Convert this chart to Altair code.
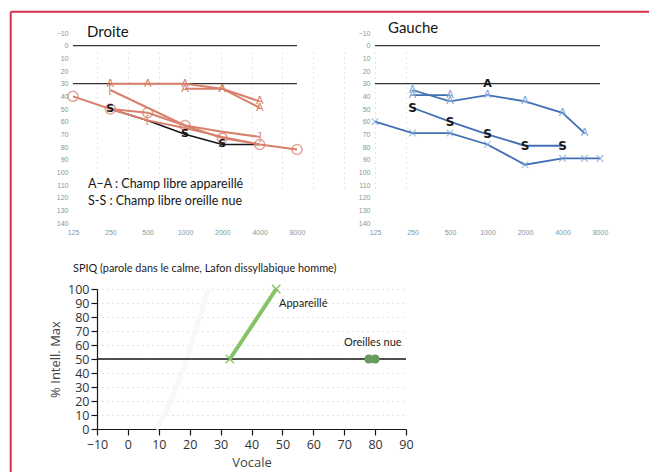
import altair as alt
import pandas as pd

# ---------------- colours ----------------
RED = "#d9806c"
BLUE = "#4170b4"
XBLUE = "#7fa6d6"
BLACK = "#161616"
BORDER = "#d8304f"
GREEN = "#84c468"
DGREEN = "#6a9a5e"
AXGREY = "#8496a0"

# ---------------- audiogram axes ----------------
FREQ_TICKS = [125, 250, 500, 1000, 2000, 4000, 8000]
DB_TICKS = [-10, 0, 10, 20, 30, 40, 50, 60, 70, 80, 90, 100, 110, 120, 130, 140]
REF_DB = [0, 30]

# ---------------- Droite (right ear) ----------------
R_A1_F = [250, 500, 1000, 2000, 4000]
R_A1_DB = [30, 30, 30, 34, 44]
R_A2_F = [1000, 2000, 4000]
R_A2_DB = [34, 34, 49]
R_O_F = [125, 250, 500, 1000, 2000, 4000, 8000]
R_O_DB = [40, 50, 53, 63, 73, 78, 82]
R_B1_F = [250, 500, 1000, 2000, 4000]
R_B1_DB = [35, 49, 63, 68, 72]
R_B1_M = ["[", "", "", "", "]"]
R_B2_F = [250, 500, 1000, 2000, 4000]
R_B2_DB = [50, 59, 65, 72, 78]
R_B2_M = ["", "[", "", "", ""]
R_S_F = [250, 500, 1000, 2000, 4000]
R_S_DB = [50, 59, 70, 78, 78]
R_S_M = ["S", "", "S", "S", ""]

# ---------------- Gauche (left ear) ----------------
L_A1_F = [250, 500, 1000, 2000, 4000, 6000]
L_A1_DB = [35, 44, 39, 44, 53, 69]
L_A2_F = [250, 500]
L_A2_DB = [39, 39]
L_S_F = [250, 500, 1000, 2000, 4000]
L_S_DB = [49, 60, 70, 79, 79]
L_X_F = [125, 250, 500, 1000, 2000, 4000, 6000, 8000]
L_X_DB = [60, 69, 69, 78, 94, 89, 89, 89]
L_AK_F = [1000]
L_AK_DB = [30]

# ---------------- SPIQ ----------------
VOC_TICKS = [-10, 0, 10, 20, 30, 40, 50, 60, 70, 80, 90]
INT_TICKS = [0, 10, 20, 30, 40, 50, 60, 70, 80, 90, 100]
AIDED_VOC = [33, 48]
AIDED_INT = [50, 100]
BARE_VOC = [78, 80]
BARE_INT = [50, 50]
HALF_INT = [50]
NORM_VOC = [9, 13, 16, 19, 22, 26]
NORM_INT = [0, 15, 32, 50, 72, 100]

X_PATH = "M-1,-1L1,1M-1,1L1,-1"
ONE = pd.DataFrame({"k": [0]})

# ---------------- canvas / panel geometry (pixels in the view) ----------------
W, H = 643, 465
A_X = (65, 289)      # Droite plot, horizontal extent
B_X = (367, 592)     # Gauche plot
AUD_Y = (25, 215)    # both audiograms, -10 dB at top, 140 dB at bottom
C_X = (89, 398)      # SPIQ plot
C_Y = (421, 281)     # 0 % at bottom, 100 % at top


def frame(freqs, dbs, series, markers=None):
    df = pd.DataFrame({"freq": freqs, "db": dbs})
    df["series"] = series
    df["marker"] = markers if markers is not None else [""] * len(freqs)
    return df


def text_layer(text, x, y, size, font="Lato", color=BLACK, align="left",
               baseline="alphabetic", weight="normal", line_height=None):
    df = pd.DataFrame({"label": [text]})
    kw = dict(align=align, baseline=baseline, fontSize=size, font=font,
              color=color, fontWeight=weight)
    if line_height:
        kw["lineBreak"] = "\n"
        kw["lineHeight"] = line_height
    return alt.Chart(df).mark_text(**kw).encode(
        x=alt.value(x), y=alt.value(y), text="label:N")


def aud_enc(xr, axis=False):
    xs = alt.Scale(type="log", base=2, domain=[125, 8000], range=list(xr), nice=False)
    ys = alt.Scale(domain=[-10, 140], range=list(AUD_Y), nice=False, zero=False)
    if axis:
        xa = alt.Axis(orient="bottom", offset=AUD_Y[1] - H, values=FREQ_TICKS,
                      format="d", title=None, grid=False, domain=False, ticks=False,
                      labelFontSize=7, labelColor=AXGREY, labelFont="Liberation Sans",
                      labelPadding=5, labelFlush=False, labelOverlap=False)
        ya = alt.Axis(orient="left", offset=-xr[0], values=DB_TICKS, title=None,
                      grid=False, domain=False, ticks=False, labelFontSize=7,
                      labelColor=AXGREY, labelFont="Liberation Sans", labelPadding=5,
                      labelOverlap=False)
    else:
        xa = None
        ya = None
    return (alt.X("freq:Q", scale=xs, axis=xa), alt.Y("db:Q", scale=ys, axis=ya), xs)


def ref_rules(xs):
    ys = alt.Scale(domain=[-10, 140], range=list(AUD_Y), nice=False, zero=False)
    return alt.Chart(pd.DataFrame({"db": REF_DB})).mark_rule(
        color="#333333", strokeWidth=1.3).encode(
        y=alt.Y("db:Q", scale=ys, axis=None),
        x=alt.X(datum=FREQ_TICKS[0], scale=xs, axis=None),
        x2=alt.X2(datum=FREQ_TICKS[-1]))


# ---------------- Droite ----------------
red_df = pd.concat([
    frame(R_A1_F, R_A1_DB, "a1", ["A"] * 5),
    frame(R_A2_F, R_A2_DB, "a2", ["A"] * 3),
    frame(R_O_F, R_O_DB, "o"),
    frame(R_B1_F, R_B1_DB, "b1", R_B1_M),
    frame(R_B2_F, R_B2_DB, "b2", R_B2_M),
], ignore_index=True)
rO_df = frame(R_O_F, R_O_DB, "o")
rS_df = frame(R_S_F, R_S_DB, "s", R_S_M)

XA, YA, xsA = aud_enc(A_X, axis=True)
Xa, Ya, _ = aud_enc(A_X)
droite_layers = [
    ref_rules(xsA),
    alt.Chart(rS_df).mark_line(color=BLACK, strokeWidth=1.6).encode(x=XA, y=YA),
    alt.Chart(red_df).mark_line(color=RED, strokeWidth=2).encode(x=Xa, y=Ya, detail="series:N"),
    alt.Chart(rO_df).mark_point(shape="circle", size=100, filled=False, color=RED,
                                strokeWidth=1.5).encode(x=Xa, y=Ya),
    alt.Chart(red_df[red_df["marker"] != ""]).mark_text(
        color=RED, fontSize=11, font="DejaVu Sans").encode(x=Xa, y=Ya, text="marker:N"),
    alt.Chart(rS_df[rS_df["marker"] != ""]).mark_text(
        color=BLACK, fontSize=11, fontWeight="bold", font="DejaVu Sans").encode(
        x=Xa, y=Ya, text="marker:N"),
    text_layer("Droite", 79, 29, 15),
    text_layer("A\u2013A :  Champ libre appareill\u00e9\nS-S : Champ libre oreille nue",
               80, 180, 12.5, line_height=17),
]

# ---------------- Gauche ----------------
blueA_df = pd.concat([
    frame(L_A1_F, L_A1_DB, "a1", ["A"] * 6),
    frame(L_A2_F, L_A2_DB, "a2", ["A"] * 2),
], ignore_index=True)
blueS_df = frame(L_S_F, L_S_DB, "s", ["S"] * 5)
blueX_df = frame(L_X_F, L_X_DB, "x")
blackA_df = frame(L_AK_F, L_AK_DB, "ak", ["A"])
blue_lines = pd.concat([blueA_df, blueS_df, blueX_df], ignore_index=True)

XB, YB, xsB = aud_enc(B_X, axis=True)
Xb, Yb, _ = aud_enc(B_X)
gauche_layers = [
    ref_rules(xsB),
    alt.Chart(blue_lines).mark_line(color=BLUE, strokeWidth=1.8).encode(
        x=XB, y=YB, detail="series:N"),
    alt.Chart(blueX_df).mark_point(shape=X_PATH, size=45, filled=False, color=XBLUE,
                                   strokeWidth=1.2).encode(x=Xb, y=Yb),
    alt.Chart(blueA_df).mark_text(color=XBLUE, fontSize=11, font="DejaVu Sans").encode(
        x=Xb, y=Yb, text="marker:N"),
    alt.Chart(blueS_df).mark_text(color=BLACK, fontSize=12, fontWeight="bold",
                                  font="DejaVu Sans").encode(x=Xb, y=Yb, text="marker:N"),
    alt.Chart(blackA_df).mark_text(color=BLACK, fontSize=11, fontWeight="bold",
                                   font="DejaVu Sans").encode(x=Xb, y=Yb, text="marker:N"),
    text_layer("Gauche", 380, 25, 15),
]

# ---------------- SPIQ ----------------
cxs = alt.Scale(domain=[-10, 90], range=list(C_X), nice=False, zero=False)
cys = alt.Scale(domain=[0, 100], range=list(C_Y), nice=False, zero=False)
ax_common = dict(grid=True, gridDash=[1, 4], gridColor="#c5cec5", domainColor=BLACK,
                 domainWidth=1.2, tickColor=BLACK, tickSize=6, tickWidth=1.2,
                 labelFontSize=12.5, labelColor="#333333", labelFont="Open Sans",
                 labelFlush=False, titleFontSize=13, titleFont="Open Sans",
                 titleFontWeight="normal", titleColor="#444444")
CXA = alt.X("voc:Q", scale=cxs,
            axis=alt.Axis(orient="bottom", offset=C_Y[0] - H, values=VOC_TICKS,
                          title="Vocale", labelPadding=3, titlePadding=6, **ax_common))
CYA = alt.Y("pct:Q", scale=cys,
            axis=alt.Axis(orient="left", offset=-C_X[0], values=INT_TICKS,
                          title="% Intell. Max", labelPadding=2, titlePadding=5,
                          **ax_common))
CX = alt.X("voc:Q", scale=cxs, axis=None)
CY = alt.Y("pct:Q", scale=cys, axis=None)

norm_df = pd.DataFrame({"voc": NORM_VOC, "pct": NORM_INT})
aided_df = pd.DataFrame({"voc": AIDED_VOC, "pct": AIDED_INT})
bare_df = pd.DataFrame({"voc": BARE_VOC, "pct": BARE_INT})
half_df = pd.DataFrame({"pct": HALF_INT})

spiq_layers = [
    alt.Chart(norm_df).mark_line(color="#f8f8f6", strokeWidth=5,
                                 interpolate="monotone").encode(x=CXA, y=CYA),
    alt.Chart(half_df).mark_rule(color=BLACK, strokeWidth=1.5).encode(
        y=CY, x=alt.X(datum=VOC_TICKS[0], scale=cxs, axis=None),
        x2=alt.X2(datum=VOC_TICKS[-1])),
    alt.Chart(aided_df).mark_line(color=GREEN, strokeWidth=4).encode(x=CX, y=CY),
    alt.Chart(aided_df).mark_point(shape=X_PATH, size=70, filled=False, color=GREEN,
                                   strokeWidth=1.4, opacity=1).encode(x=CX, y=CY),
    alt.Chart(bare_df).mark_point(shape="circle", size=85, filled=True, color=DGREEN,
                                  opacity=1).encode(x=CX, y=CY),
    text_layer("SPIQ (parole dans le calme, Lafon dissyllabique homme)", 65, 264, 10.9,
               color="#222222"),
    text_layer("Appareill\u00e9", 271, 299, 11, color="#222222"),
    text_layer("Oreilles nue", 336, 338, 11, color="#222222"),
]

# ---------------- frame: top and left edges of a red box ----------------
border_layers = [
    alt.Chart(ONE).mark_rule(color=BORDER, strokeWidth=2).encode(
        x=alt.value(2.7), x2=alt.value(W - 2), y=alt.value(3.7), y2=alt.value(3.7)),
    alt.Chart(ONE).mark_rule(color=BORDER, strokeWidth=2).encode(
        x=alt.value(2.7), x2=alt.value(2.7), y=alt.value(3.7), y2=alt.value(H - 1)),
]

chart = alt.layer(
    *border_layers, *droite_layers, *gauche_layers, *spiq_layers
).resolve_scale(x="independent", y="independent").resolve_axis(
    x="independent", y="independent"
).properties(
    width=W, height=H, autosize="none", padding=0
).configure_view(stroke="transparent", strokeWidth=0)

chart.save("out.html", embed_options={"renderer": "svg", "actions": False})
